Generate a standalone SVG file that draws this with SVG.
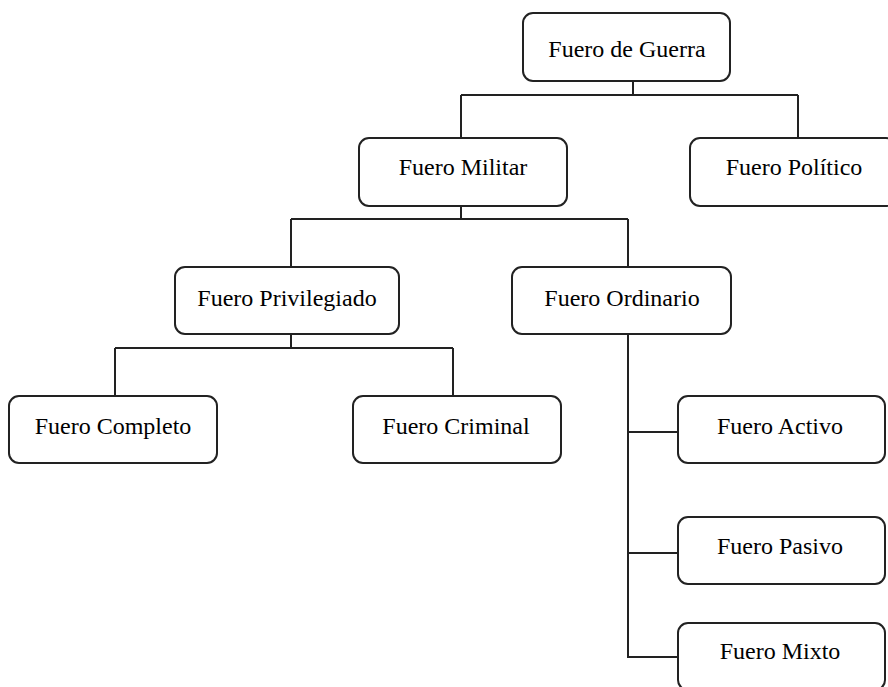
<svg xmlns="http://www.w3.org/2000/svg" width="888" height="687" viewBox="0 0 888 687">
<style>
.box{fill:#fff;stroke:#222;stroke-width:2}
.lbl{font-family:"Liberation Serif","Times New Roman",serif;font-size:24px;fill:#000;text-anchor:middle}
.con{fill:none;stroke:#222;stroke-width:2}
</style>
<rect width="888" height="687" fill="#fff"/>
<g id="connectors">
<path class="con" d="M633,81V95M461,95H798M461,95V138M798,95V138"/>
<path class="con" d="M461,206V219M291,219H628M291,219V267M628,219V267"/>
<path class="con" d="M291,334V348M115,348H453M115,348V396M453,348V396"/>
<path class="con" d="M628,334V657H678M628,432H678M628,553H678"/>
</g>
<g id="guerra"><rect class="box" x="523" y="13" width="207" height="68" rx="10"/><text class="lbl" x="627" y="57">Fuero de Guerra</text></g>
<g id="militar"><rect class="box" x="359" y="138" width="208" height="68" rx="10"/><text class="lbl" x="463" y="175">Fuero Militar</text></g>
<g id="politico"><rect class="box" x="690" y="138" width="206" height="68" rx="10"/><text class="lbl" x="794" y="175">Fuero Político</text></g>
<g id="privilegiado"><rect class="box" x="175" y="267" width="224" height="67" rx="10"/><text class="lbl" x="287" y="306">Fuero Privilegiado</text></g>
<g id="ordinario"><rect class="box" x="512" y="267" width="219" height="67" rx="10"/><text class="lbl" x="622" y="306">Fuero Ordinario</text></g>
<g id="completo"><rect class="box" x="9" y="396" width="208" height="67" rx="10"/><text class="lbl" x="113" y="434">Fuero Completo</text></g>
<g id="criminal"><rect class="box" x="353" y="396" width="208" height="67" rx="10"/><text class="lbl" x="456" y="434">Fuero Criminal</text></g>
<g id="activo"><rect class="box" x="678" y="396" width="207" height="67" rx="10"/><text class="lbl" x="780" y="434">Fuero Activo</text></g>
<g id="pasivo"><rect class="box" x="678" y="517" width="207" height="67" rx="10"/><text class="lbl" x="780" y="554">Fuero Pasivo</text></g>
<g id="mixto"><rect class="box" x="678" y="623" width="207" height="67" rx="10"/><text class="lbl" x="780" y="659">Fuero Mixto</text></g>
</svg>
